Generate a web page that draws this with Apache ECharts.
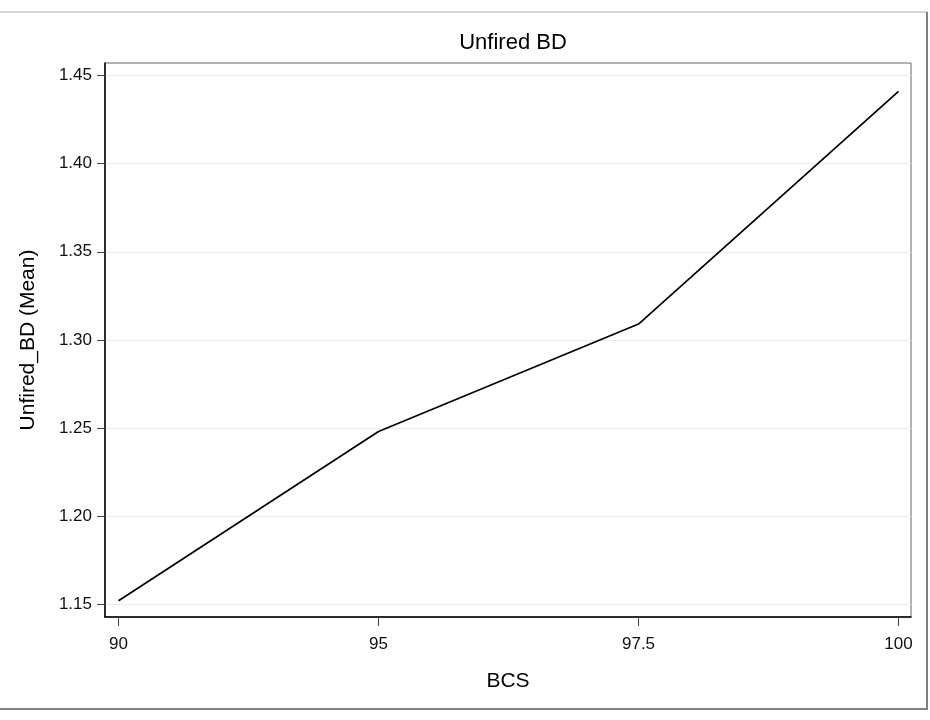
<!DOCTYPE html>
<html>
<head>
<meta charset="utf-8">
<script src="https://cdn.jsdelivr.net/npm/echarts@6/dist/echarts.min.js"></script>
<style>
  html, body { margin: 0; padding: 0; background: #fff; }
  #chart { width: 930px; height: 720px; }
</style>
</head>
<body>
<div id="chart"></div>
<script>
// BCS levels (plotted at equal spacing) and mean unfired bulk density
const categories = ['90', '95', '97.5', '100'];
const meanValues = [1.152, 1.248, 1.309, 1.441];
const yTicks = [1.15, 1.20, 1.25, 1.30, 1.35, 1.40, 1.45];

const FONT = '"Liberation Sans", Arial, sans-serif';
const positions = categories.map((_, i) => i);

const chart = echarts.init(document.getElementById('chart'), null, { renderer: 'canvas' });

chart.setOption({
  animation: false,
  backgroundColor: '#ffffff',
  title: {
    text: 'Unfired BD',
    left: 508,
    textAlign: 'center',
    top: 27,
    textStyle: { fontFamily: FONT, fontSize: 22, fontWeight: 'normal', color: '#000' }
  },
  grid: {
    left: 105, right: 19, top: 63, bottom: 103,
    show: true,
    borderColor: '#666',
    borderWidth: 1,
    backgroundColor: 'transparent'
  },
  xAxis: {
    type: 'value',
    min: -0.052,
    max: 3.048,
    name: 'BCS',
    nameLocation: 'middle',
    nameGap: 54,
    nameTextStyle: { fontFamily: FONT, fontSize: 21, color: '#000' },
    axisLine: { show: true, onZero: false, lineStyle: { color: '#000', width: 1.5 } },
    axisTick: { show: true, length: 9, customValues: positions, lineStyle: { color: '#444' } },
    axisLabel: {
      customValues: positions,
      margin: 19,
      fontFamily: FONT, fontSize: 17, color: '#111',
      formatter: v => categories[Math.round(v)]
    },
    splitLine: { show: false }
  },
  yAxis: {
    type: 'value',
    min: 1.1428,
    max: 1.4571,
    name: 'Unfired_BD (Mean)',
    nameLocation: 'middle',
    nameGap: 66,
    nameTextStyle: { fontFamily: FONT, fontSize: 21, color: '#000' },
    axisLine: { show: true, onZero: false, lineStyle: { color: '#000', width: 1.5 } },
    axisTick: { show: true, length: 8, customValues: yTicks, lineStyle: { color: '#444' } },
    axisLabel: {
      customValues: yTicks,
      margin: 13,
      fontFamily: FONT, fontSize: 17, color: '#111',
      formatter: v => v.toFixed(2)
    },
    splitLine: { show: true, lineStyle: { color: '#ececec', width: 1 } }
  },
  series: [{
    type: 'line',
    data: positions.map((x, i) => [x, meanValues[i]]),
    showSymbol: false,
    symbol: 'none',
    lineStyle: { color: '#000', width: 1.7 },
    z: 3
  }],
  graphic: [
    { type: 'line', shape: { x1: 0, y1: 12, x2: 927, y2: 12 }, style: { stroke: '#c8c8c8', lineWidth: 1.5 } },
    { type: 'line', shape: { x1: 927, y1: 12, x2: 927, y2: 709 }, style: { stroke: '#808080', lineWidth: 2 } },
    { type: 'line', shape: { x1: 0, y1: 709, x2: 928, y2: 709 }, style: { stroke: '#808080', lineWidth: 2 } }
  ]
});
</script>
</body>
</html>
